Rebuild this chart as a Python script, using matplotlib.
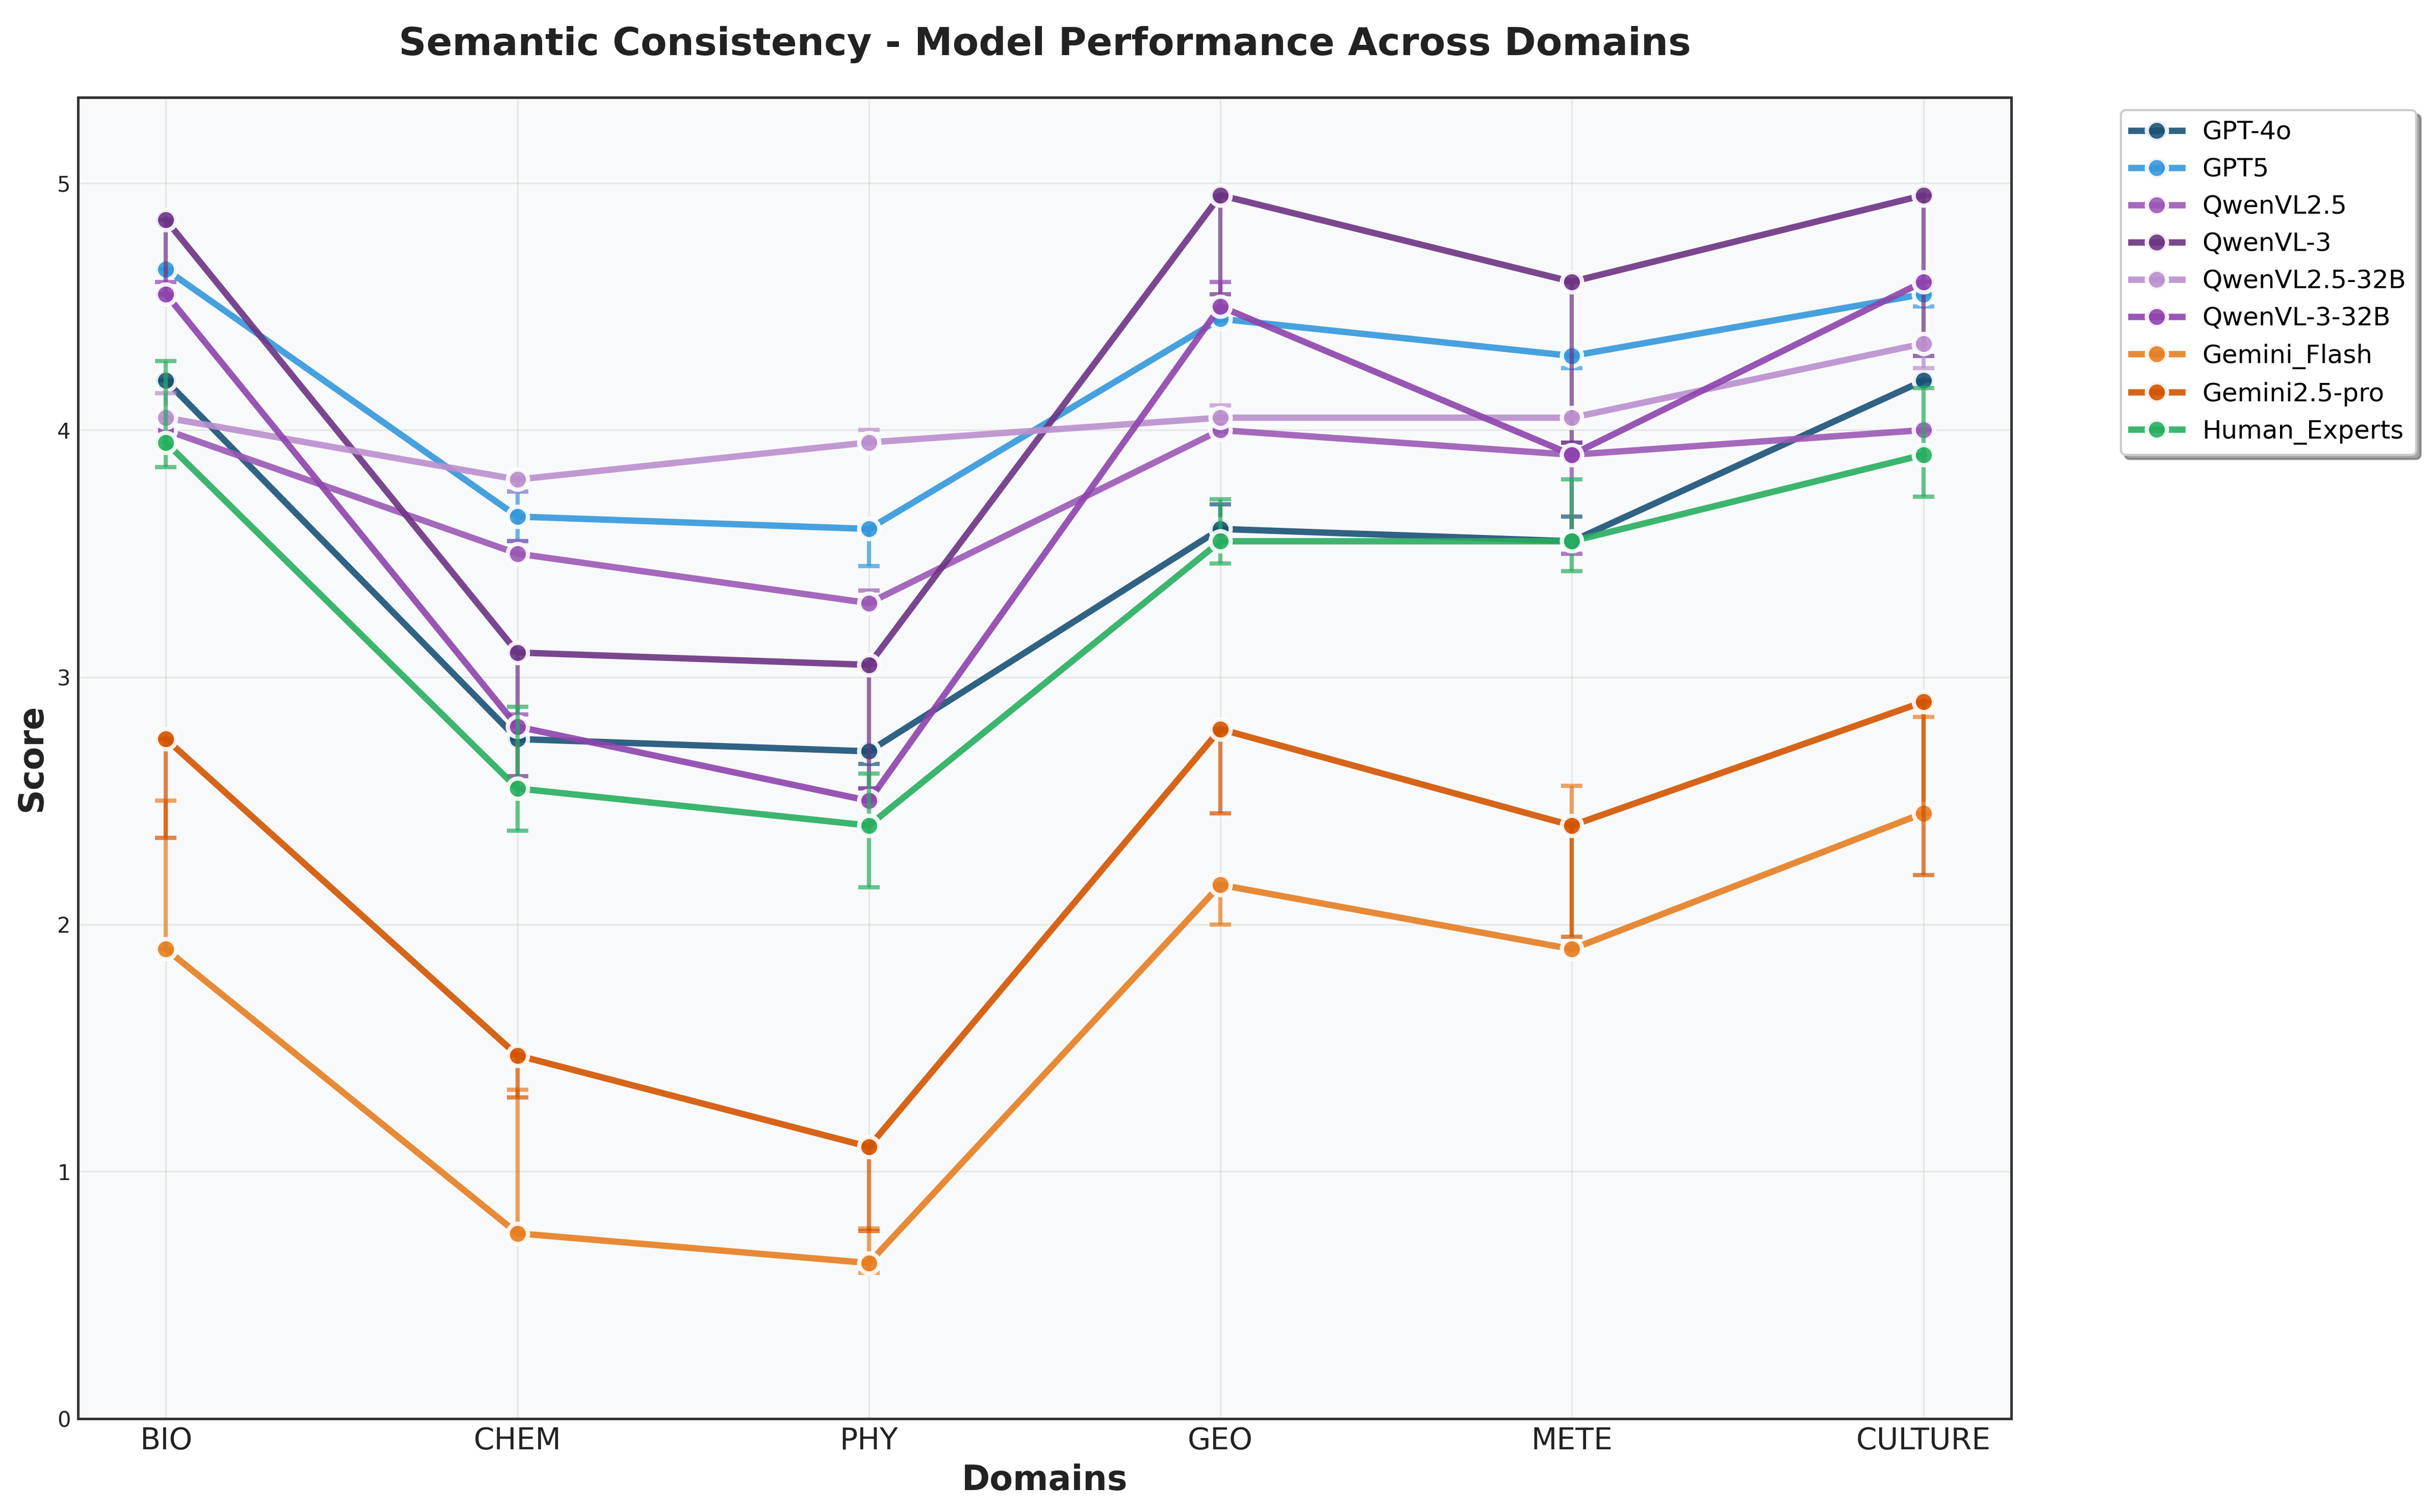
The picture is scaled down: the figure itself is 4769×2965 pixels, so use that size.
import matplotlib
matplotlib.use("Agg")
import matplotlib.pyplot as plt
import numpy as np

domains = ["BIO", "CHEM", "PHY", "GEO", "METE", "CULTURE"]

models = ["GPT-4o", "GPT5", "QwenVL2.5", "QwenVL-3", "QwenVL2.5-32B",
          "QwenVL-3-32B", "Gemini_Flash", "Gemini2.5-pro", "Human_Experts"]

gpt4o = [4.20, 2.75, 2.70, 3.60, 3.55, 4.20]
gpt5 = [4.65, 3.65, 3.60, 4.45, 4.30, 4.55]
qwen25 = [4.00, 3.50, 3.30, 4.00, 3.90, 4.00]
qwen3 = [4.85, 3.10, 3.05, 4.95, 4.60, 4.95]
qwen25_32b = [4.05, 3.80, 3.95, 4.05, 4.05, 4.35]
qwen3_32b = [4.55, 2.80, 2.50, 4.50, 3.90, 4.60]
gemini_flash = [1.90, 0.75, 0.63, 2.16, 1.90, 2.45]
gemini_pro = [2.75, 1.47, 1.10, 2.79, 2.40, 2.90]
human = [3.95, 2.55, 2.40, 3.55, 3.55, 3.90]

# lower / upper error per domain
gpt4o_err = ([0, 0, 0.05, 0, 0, 0], [0, 0, 0, 0.10, 0.10, 0])
gpt5_err = ([0, 0.10, 0.15, 0, 0.05, 0.05], [0, 0.10, 0, 0, 0, 0])
qwen25_err = ([0, 0, 0, 0, 0, 0], [0, 0.05, 0.05, 0, 0.05, 0])
qwen3_err = ([0.30, 0.50, 0.50, 0.40, 0.65, 0.65], [0, 0, 0, 0, 0, 0])
qwen25_32b_err = ([0, 0.05, 0, 0, 0, 0.10], [0.10, 0, 0.05, 0.05, 0, 0])
qwen3_32b_err = ([0, 0, 0, 0, 0.40, 0], [0.05, 0.05, 0.05, 0.10, 0, 0])
gemini_flash_err = ([0, 0, 0.04, 0.16, 0, 0], [0.60, 0.58, 0.14, 0, 0.66, 0.39])
gemini_pro_err = ([0.40, 0.17, 0.34, 0.34, 0.45, 0.70], [0, 0, 0, 0, 0, 0])
human_err = ([0.10, 0.17, 0.25, 0.09, 0.12, 0.17], [0.33, 0.33, 0.21, 0.17, 0.25, 0.27])

colors = ["#1A5276", "#3498DB", "#9B59B6", "#6C3483", "#BB8FCE",
          "#8E44AD", "#E67E22", "#D35400", "#27AE60"]

scores = [gpt4o, gpt5, qwen25, qwen3, qwen25_32b, qwen3_32b,
          gemini_flash, gemini_pro, human]
errors = [gpt4o_err, gpt5_err, qwen25_err, qwen3_err, qwen25_32b_err,
          qwen3_32b_err, gemini_flash_err, gemini_pro_err, human_err]

fig = plt.figure(figsize=(4769 / 300, 2965 / 300), dpi=300)
ax = fig.add_axes([0.0321, 0.0617, 0.7949, 0.8739])
ax.set_facecolor("#f8f9fa")

x = np.arange(len(domains))
for name, vals, err, col in zip(models, scores, errors, colors):
    # error bars first so the series' own markers sit on top of them
    ax.errorbar(x, vals, yerr=[err[0], err[1]], fmt="none", ecolor=col,
                elinewidth=2, capsize=5, capthick=2, alpha=0.7, zorder=3)
    ax.plot(x, vals, "-o", color=col, label=name, linewidth=3, markersize=9.5,
            markeredgecolor="white", markeredgewidth=2, alpha=0.9, zorder=3)

all_vals = [v for s in scores for v in s]
ax.set_xlim(-0.25, len(domains) - 0.75)
ax.set_ylim(0, max(all_vals) * 1.08)
ax.set_xticks(x)
ax.set_xticklabels(domains, fontsize=14, color="#222222")
ax.tick_params(axis="y", labelsize=10, colors="#222222")
ax.tick_params(length=0)
ax.grid(True, color="#cccccc", alpha=0.4, linewidth=0.8)
ax.set_axisbelow(True)
for sp in ax.spines.values():
    sp.set_linewidth(1.2)
    sp.set_color("#333333")

ax.set_title("Semantic Consistency - Model Performance Across Domains",
             fontsize=18, fontweight="bold", pad=20, color="#222222")
ax.set_xlabel("Domains", fontsize=16, fontweight="bold", color="#222222")
ax.set_ylabel("Score", fontsize=16, fontweight="bold", color="#222222")

leg = ax.legend(bbox_to_anchor=(1.05, 1), loc="upper left", fontsize=12,
                frameon=True, fancybox=True, shadow=True)
leg.get_frame().set_edgecolor("#cccccc")
leg.get_frame().set_facecolor("white")

fig.savefig("out.png", dpi=300)
